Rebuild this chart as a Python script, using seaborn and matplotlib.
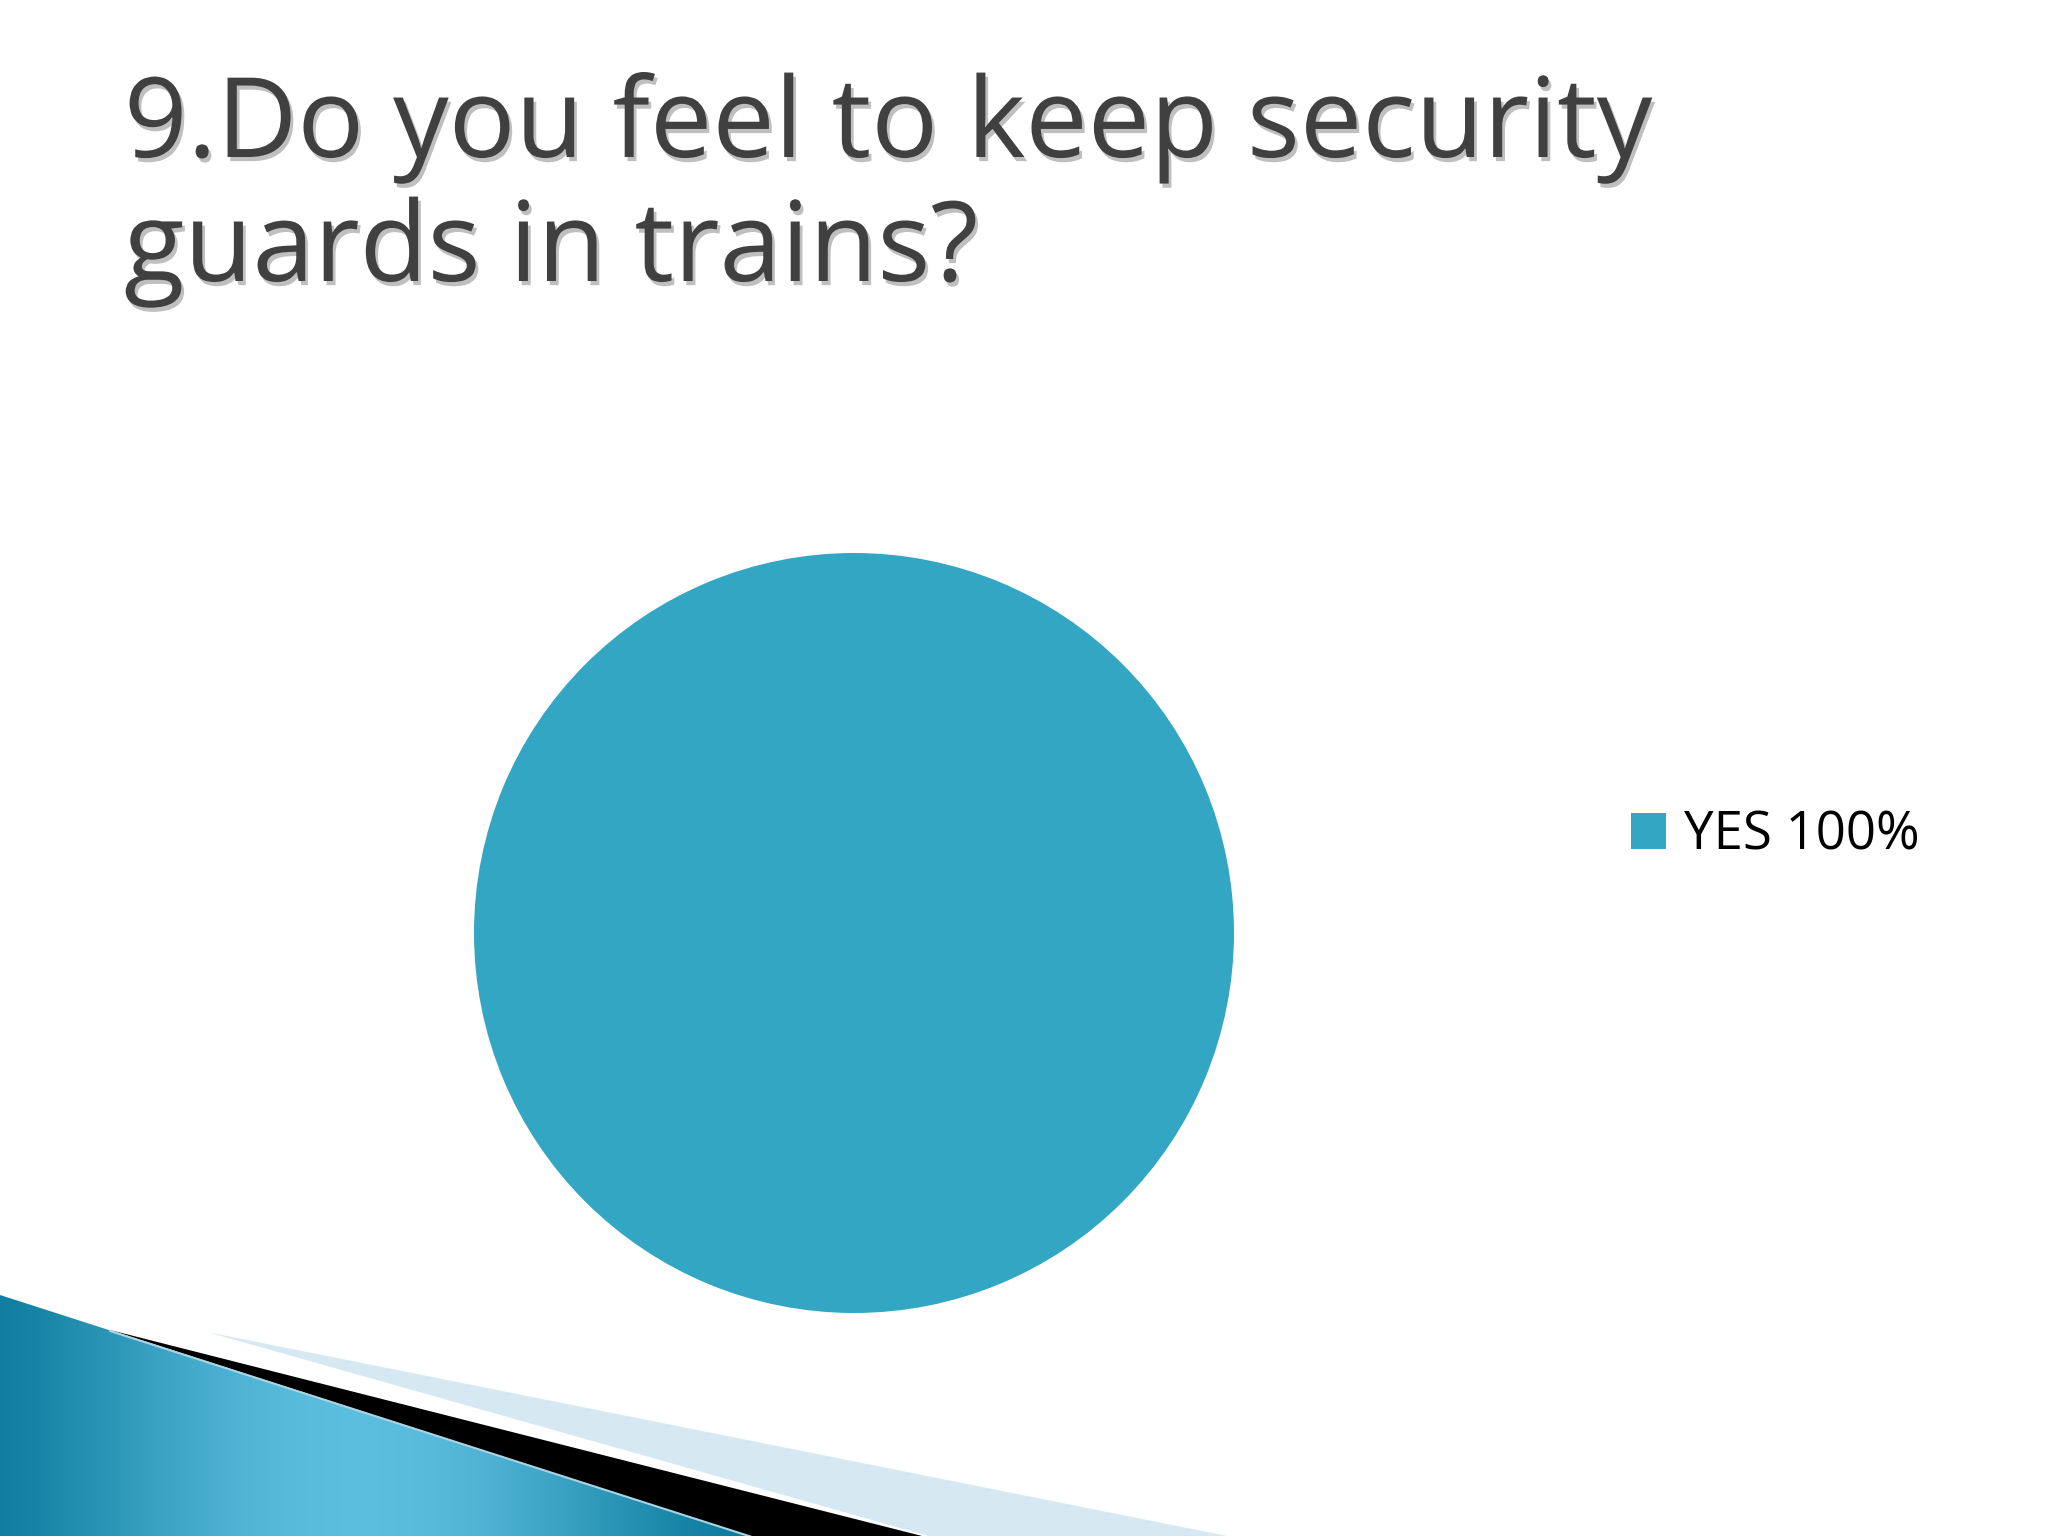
import numpy as np
import seaborn as sns
import matplotlib.pyplot as plt
from matplotlib.patches import Polygon, Patch
import matplotlib.patheffects as pe

# data
labels = ["YES"]
values = [100]
colors = ["#33A6C4"]
title_lines = ["9.Do you feel to keep security", "guards in trains?"]

sns.set_theme(style="white")
plt.rcParams['font.family'] = ['Open Sans', 'DejaVu Sans']

W, H = 2048, 1536
fig = plt.figure(figsize=(20.48, 15.36), dpi=100)
fig.patch.set_facecolor("white")

# slide decoration in the bottom-left corner (pixel coords, y from top)
deco = fig.add_axes([0, 0, 1, 1], zorder=0)
deco.set_xlim(0, W)
deco.set_ylim(H, 0)
deco.axis("off")

blue = Polygon([(0, 1295), (752, 1537), (0, 1537)], closed=True,
               facecolor="none", edgecolor="none")
deco.add_patch(blue)
gx = np.linspace(0, 1, 400)
grad = np.tile(np.sin(gx * np.pi) ** 1.5, (50, 1))
img = deco.imshow(grad, extent=(-40, 760, 1536, 1290), aspect="auto",
                  cmap=sns.blend_palette(["#0A7A9C", "#5CBEDF"], as_cmap=True),
                  zorder=1)
img.set_clip_path(blue)

deco.add_patch(Polygon([(110, 1330), (926, 1537), (752, 1537)], closed=True,
                       facecolor="black", edgecolor="none", zorder=2))
deco.plot([110, 752], [1331, 1537], color="#A9D4E2", lw=1.5, zorder=3)
deco.add_patch(Polygon([(207, 1332), (1232, 1537), (932, 1537)], closed=True,
                       facecolor="#D6E9F2", edgecolor="none", zorder=2))

# title
shadow = [pe.withSimplePatchShadow(offset=(2, -3), shadow_rgbFace="#000000", alpha=0.25)]
fig.text(124 / W, 1 - 157 / H, title_lines[0], fontsize=80, color="#404040",
         va="baseline", ha="left", path_effects=shadow)
fig.text(124 / W, 1 - 281 / H, title_lines[1], fontsize=80, color="#404040",
         va="baseline", ha="left", path_effects=shadow)

# pie
cx, cy, r = 854, 933, 380
ax = fig.add_axes([(cx - r) / W, 1 - (cy + r) / H, 2 * r / W, 2 * r / H], zorder=3)
ax.pie(values, colors=colors, radius=1, startangle=90, counterclock=False,
       wedgeprops=dict(linewidth=0))
ax.set_xlim(-1, 1)
ax.set_ylim(-1, 1)
ax.set_aspect("equal")
ax.axis("off")

handles = [Patch(facecolor=c, edgecolor="none") for c in colors]
leg_labels = [f"{l} {v}%" for l, v in zip(labels, values)]
leg = fig.legend(handles, leg_labels, loc="center left",
                 bbox_to_anchor=(1631 / W, 1 - 836 / H), frameon=False,
                 fontsize=38, handlelength=0.66, handleheight=0.66,
                 handletextpad=0.35, borderpad=0, borderaxespad=0)
for t in leg.get_texts():
    t.set_color("black")

fig.savefig("out.png", dpi=100, facecolor="white")
